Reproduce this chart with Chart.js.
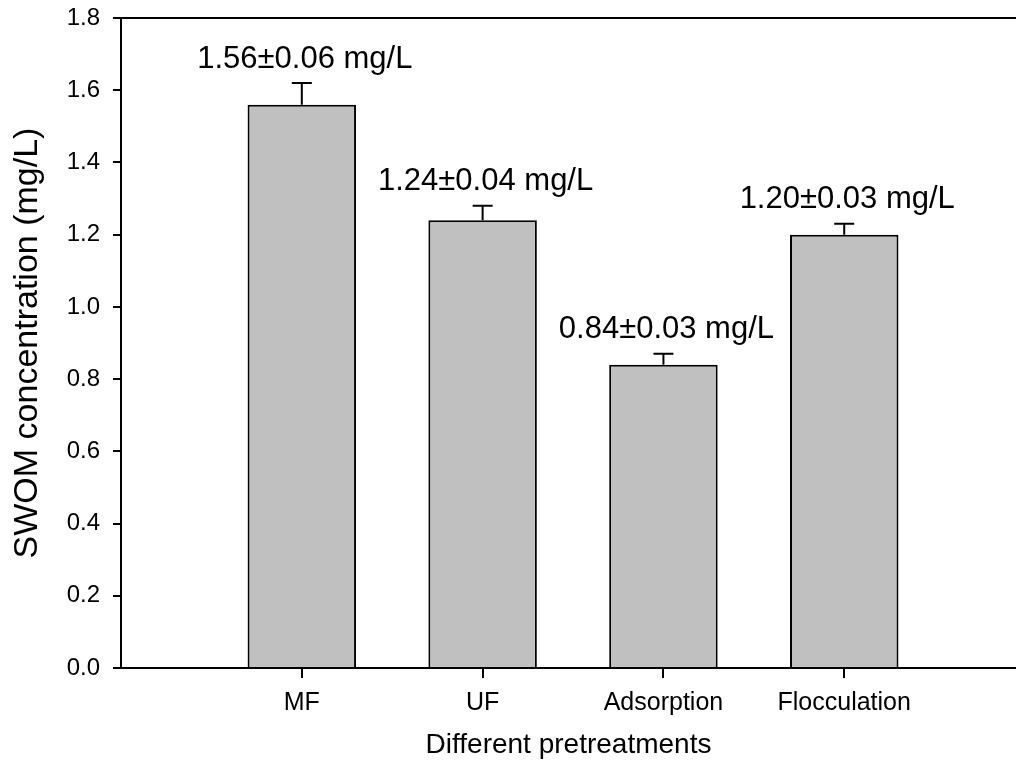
<!DOCTYPE html>
<html>
<head>
<meta charset="utf-8">
<title>SWOM concentration</title>
<script src="https://cdn.jsdelivr.net/npm/chart.js@4.4.1/dist/chart.umd.min.js"></script>
<style>
  html, body { margin: 0; padding: 0; background: #fff; }
  #wrap { width: 1016px; height: 778px; }
</style>
</head>
<body>
<div id="wrap"><canvas id="swomChart" width="1016" height="778"></canvas></div>
<script>
// SWOM left after each pretreatment (mg/L), mean and standard deviation
const categories = ["MF", "UF", "Adsorption", "Flocculation"];
const swomMean = [1.56, 1.24, 0.84, 1.20];
const swomSd = [0.06, 0.04, 0.03, 0.03];
const yTicks = [0, 0.2, 0.4, 0.6, 0.8, 1.0, 1.2, 1.4, 1.6, 1.8];

const FONT = "'Liberation Sans', Arial, sans-serif";

// error bars (upper half only) drawn from the bar top
const errorBars = {
  id: "errorBars",
  afterDatasetsDraw(chart) {
    const { ctx, scales: { y } } = chart;
    const meta = chart.getDatasetMeta(0);
    ctx.save();
    ctx.strokeStyle = "#000";
    ctx.lineWidth = 2;
    meta.data.forEach((bar, i) => {
      const top = y.getPixelForValue(swomMean[i] + swomSd[i]);
      ctx.beginPath();
      ctx.moveTo(bar.x, bar.y);
      ctx.lineTo(bar.x, top);
      ctx.moveTo(bar.x - 10, top);
      ctx.lineTo(bar.x + 10, top);
      ctx.stroke();
    });
    ctx.restore();
  }
};

// "mean±sd mg/L" text above each error bar
const valueLabels = {
  id: "valueLabels",
  afterDatasetsDraw(chart) {
    const { ctx, scales: { y } } = chart;
    const meta = chart.getDatasetMeta(0);
    ctx.save();
    ctx.fillStyle = "#000";
    ctx.font = "31px " + FONT;
    ctx.textAlign = "center";
    ctx.textBaseline = "middle";
    meta.data.forEach((bar, i) => {
      const top = y.getPixelForValue(swomMean[i] + swomSd[i]);
      const txt = swomMean[i].toFixed(2) + "\u00b1" + swomSd[i].toFixed(2) + " mg/L";
      ctx.fillText(txt, bar.x + 3, top - 24);
    });
    ctx.restore();
  }
};

// top edge of the frame
const topFrame = {
  id: "topFrame",
  afterDraw(chart) {
    const { ctx, chartArea } = chart;
    ctx.save();
    ctx.strokeStyle = "#000";
    ctx.lineWidth = 2;
    ctx.beginPath();
    ctx.moveTo(chartArea.left - 1, chartArea.top);
    ctx.lineTo(chartArea.right, chartArea.top);
    ctx.stroke();
    ctx.restore();
  }
};

new Chart(document.getElementById("swomChart"), {
  type: "bar",
  data: {
    datasets: [{
      data: categories.map((c, i) => ({ x: i + 1, y: swomMean[i] })),
      backgroundColor: "#c0c0c0",
      borderColor: "#000",
      borderWidth: 2,
      borderSkipped: "start",
      categoryPercentage: 1,
      barPercentage: 0.6
    }]
  },
  options: {
    responsive: false,
    animation: false,
    layout: { padding: { top: 18, right: 0, left: 0, bottom: 0 } },
    plugins: { legend: { display: false }, tooltip: { enabled: false } },
    scales: {
      x: {
        type: "linear",
        min: 0,
        max: 4.95,
        offset: false,
        afterBuildTicks: s => { s.ticks = categories.map((c, i) => ({ value: i + 1 })); },
        afterFit: s => { s.height = 110; },
        ticks: {
          color: "#000",
          font: { family: FONT, size: 25 },
          padding: 10,
          callback: v => categories[v - 1]
        },
        grid: { offset: false, drawOnChartArea: false, color: "#000", lineWidth: 2, tickLength: 10 },
        border: { color: "#000", width: 2 },
        title: {
          display: true,
          text: "Different pretreatments",
          color: "#000",
          font: { family: FONT, size: 28 },
          padding: { top: 0, bottom: 16 }
        }
      },
      y: {
        min: 0,
        max: 1.8,
        afterBuildTicks: s => { s.ticks = yTicks.map(v => ({ value: v })); },
        afterFit: s => { s.width = 121; s.paddingTop = 0; s.paddingBottom = 0; },
        ticks: {
          color: "#000",
          font: { family: FONT, size: 24 },
          padding: 13,
          callback: v => v.toFixed(1)
        },
        grid: { drawOnChartArea: false, color: "#000", lineWidth: 2, tickLength: 8 },
        border: { color: "#000", width: 2 },
        title: {
          display: true,
          text: "SWOM concentration (mg/L)",
          color: "#000",
          font: { family: FONT, size: 34 },
          padding: { top: 7, bottom: 0 }
        }
      }
    }
  },
  plugins: [errorBars, valueLabels, topFrame]
});
</script>
</body>
</html>
